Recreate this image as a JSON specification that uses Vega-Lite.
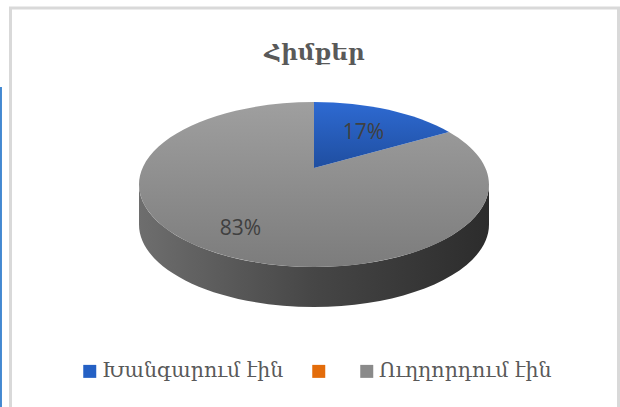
{
  "$schema": "https://vega.github.io/schema/vega-lite/v6.json",
  "width": 608,
  "height": 420,
  "autosize": "none",
  "padding": {"left": 10.5, "top": 8, "right": 1.5, "bottom": 0},
  "background": "white",
  "view": {"stroke": "#d9d9d9", "strokeWidth": 3, "fill": "white"},
  "title": {"text": "Հիմքեր", "font": "DejaVu Serif", "fontSize": 23, "fontWeight": "bold", "color": "#595959", "anchor": "middle", "offset": -57},
  "data": {"values": [
    {"category": "Խանգարում էին", "share": 0.17},
    {"category": " ", "share": 0},
    {"category": "Ուղղորդում էին", "share": 0.83}
  ]},
  "layer": [
    {
      "transform": [{"filter": "datum.share > 0.5"}],
      "mark": {"type": "point", "filled": true, "opacity": 1, "size": 122500,
        "shape": "M-1.797,-0.7486 L-1.786,-0.7486 L-1.786,1.097 L-1.797,1.097 Z",
        "fill": "#3f86d0"}
    },
    {
      "transform": [{"filter": "datum.share > 0.5"}],
      "mark": {"type": "point", "filled": true, "opacity": 1, "size": 122500, "yOffset": -33.5, "xOffset": -0.5,
        "shape": "M-1,0 A1,0.4714 0 0 0 1,0 L1,0.2286 A1,0.4714 0 0 1 -1,0.2286 Z",
        "fill": {"gradient": "linear", "x1": 0, "y1": 0, "x2": 1, "y2": 0, "stops": [{"offset": 0, "color": "#6e6e6e"}, {"offset": 0.5, "color": "#464646"}, {"offset": 1, "color": "#2c2c2c"}]}}
    },
    {
      "mark": {"type": "point", "filled": true, "opacity": 1, "size": 16, "shape": "square", "yOffset": -33.5},
      "encoding": {
        "color": {"field": "category", "type": "nominal",
          "scale": {"domain": ["Խանգարում էին", " ", "Ուղղորդում էին"], "range": ["#2460c4", "#e36c0a", "#8a8a8a"]},
          "legend": {"title": null, "orient": "none", "legendX": 69, "legendY": 353, "direction": "horizontal", "columns": 3, "symbolType": "square", "symbolSize": 169, "labelFont": "DejaVu Serif", "labelFontSize": 20.5, "labelColor": "#595959", "labelOffset": 2, "labelLimit": 300, "columnPadding": 25, "symbolOpacity": 1, "padding": 0}}
      }
    },
    {
      "transform": [{"filter": "datum.share > 0.5"}],
      "mark": {"type": "point", "filled": true, "opacity": 1, "size": 122500, "yOffset": -33.5, "xOffset": -0.5,
        "shape": "M0,-0.0943 L0.7714,-0.30 A1,0.4714 0 1 1 0,-0.4714 Z",
        "fill": {"gradient": "linear", "x1": 0, "y1": 0, "x2": 0, "y2": 1, "stops": [{"offset": 0, "color": "#9f9f9f"}, {"offset": 1, "color": "#7c7c7c"}]}}
    },
    {
      "transform": [{"filter": "datum.share > 0 && datum.share < 0.5"}],
      "mark": {"type": "point", "filled": true, "opacity": 1, "size": 122500, "yOffset": -33.5, "xOffset": -0.5,
        "shape": "M0,-0.0943 L0,-0.4714 A1,0.4714 0 0 1 0.7714,-0.30 Z",
        "fill": {"gradient": "linear", "x1": 0, "y1": 0, "x2": 0, "y2": 1, "stops": [{"offset": 0, "color": "#2e6ad2"}, {"offset": 1, "color": "#1f4ea0"}]}}
    },
    {
      "transform": [{"filter": "datum.share > 0 && datum.share < 0.5"}],
      "mark": {"type": "text", "font": "Open Sans", "fontSize": 21, "color": "#404040", "xOffset": 49, "yOffset": -85},
      "encoding": {"text": {"field": "share", "type": "quantitative", "format": ".0%"}}
    },
    {
      "transform": [{"filter": "datum.share > 0.5"}],
      "mark": {"type": "text", "font": "Open Sans", "fontSize": 21, "color": "#404040", "xOffset": -74, "yOffset": 11},
      "encoding": {"text": {"field": "share", "type": "quantitative", "format": ".0%"}}
    }
  ]
}
